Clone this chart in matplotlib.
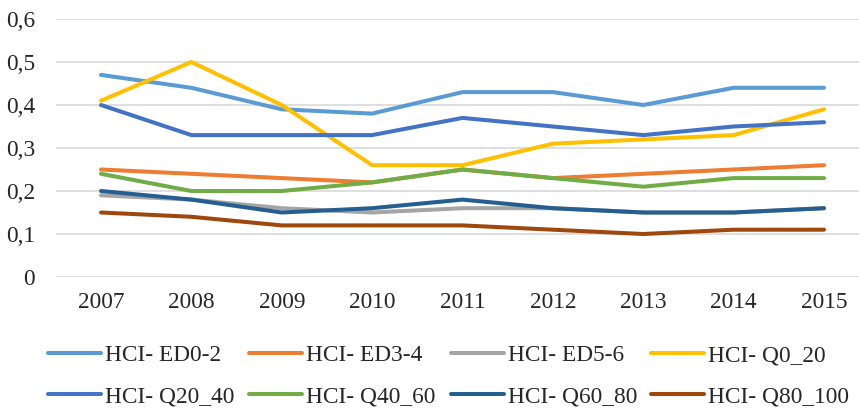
import matplotlib
matplotlib.use("Agg")
from matplotlib import pyplot as plt
from matplotlib.ticker import FuncFormatter

years = ['2007', '2008', '2009', '2010', '2011', '2012', '2013', '2014', '2015']

ed0_2 = [0.47, 0.44, 0.39, 0.38, 0.43, 0.43, 0.40, 0.44, 0.44]
ed3_4 = [0.25, 0.24, 0.23, 0.22, 0.25, 0.23, 0.24, 0.25, 0.26]
ed5_6 = [0.19, 0.18, 0.16, 0.15, 0.16, 0.16, 0.15, 0.15, 0.16]
q0_20 = [0.41, 0.50, 0.40, 0.26, 0.26, 0.31, 0.32, 0.33, 0.39]
q20_40 = [0.40, 0.33, 0.33, 0.33, 0.37, 0.35, 0.33, 0.35, 0.36]
q40_60 = [0.24, 0.20, 0.20, 0.22, 0.25, 0.23, 0.21, 0.23, 0.23]
q60_80 = [0.20, 0.18, 0.15, 0.16, 0.18, 0.16, 0.15, 0.15, 0.16]
q80_100 = [0.15, 0.14, 0.12, 0.12, 0.12, 0.11, 0.10, 0.11, 0.11]

series = [
    ('HCI- ED0-2', ed0_2, '#5B9BD5'),
    ('HCI- ED3-4', ed3_4, '#ED7D31'),
    ('HCI- ED5-6', ed5_6, '#A5A5A5'),
    ('HCI- Q0_20', q0_20, '#FFC000'),
    ('HCI- Q20_40', q20_40, '#4472C4'),
    ('HCI- Q40_60', q40_60, '#70AD47'),
    ('HCI- Q60_80', q60_80, '#255E91'),
    ('HCI- Q80_100', q80_100, '#9E480E'),
]

plt.rcParams['font.family'] = ['Liberation Serif', 'DejaVu Serif']
FS = 16.8

fig = plt.figure(figsize=(8.59, 4.08), dpi=100)
ax = fig.add_axes([56 / 859, 1 - 277 / 408, 803 / 859, 258 / 408])

x = list(range(len(years)))
for name, vals, color in series:
    ax.plot(x, vals, color=color, lw=2.9, label=name,
            solid_capstyle='round', solid_joinstyle='round')

ax.set_xlim(-0.498, 8.387)
ax.set_ylim(0, 0.6)
ax.set_yticks([0, 0.1, 0.2, 0.3, 0.4, 0.5, 0.6])
ax.yaxis.set_major_formatter(FuncFormatter(lambda v, p: '0' if v == 0 else f'{v:.1f}'.replace('.', ',')))
ax.set_xticks(x)
ax.set_xticklabels(years)
ax.tick_params(length=0, labelsize=FS, colors='#262626')
ax.tick_params(axis='x', pad=11)
ax.tick_params(axis='y', pad=15)
ax.grid(axis='y', color='#D9D9D9', lw=1.2)
ax.set_axisbelow(True)
for s in ax.spines.values():
    s.set_visible(False)

# legend: 4 columns, 2 rows (row-major like the original), one legend per column
handles, labels = ax.get_legend_handles_labels()
col_x = [48, 249, 451, 651]
for c, cx in enumerate(col_x):
    hs = [handles[c], handles[c + 4]]
    ls = [labels[c], labels[c + 4]]
    leg = fig.legend(hs, ls, loc='center left', bbox_to_anchor=(cx / 859, 1 - 376 / 408),
                     frameon=False, fontsize=FS, handlelength=2.28, handletextpad=0.15,
                     labelspacing=0.85, borderpad=0, borderaxespad=0)
    for t in leg.get_texts():
        t.set_color('#262626')

fig.savefig('out.png', dpi=100)
